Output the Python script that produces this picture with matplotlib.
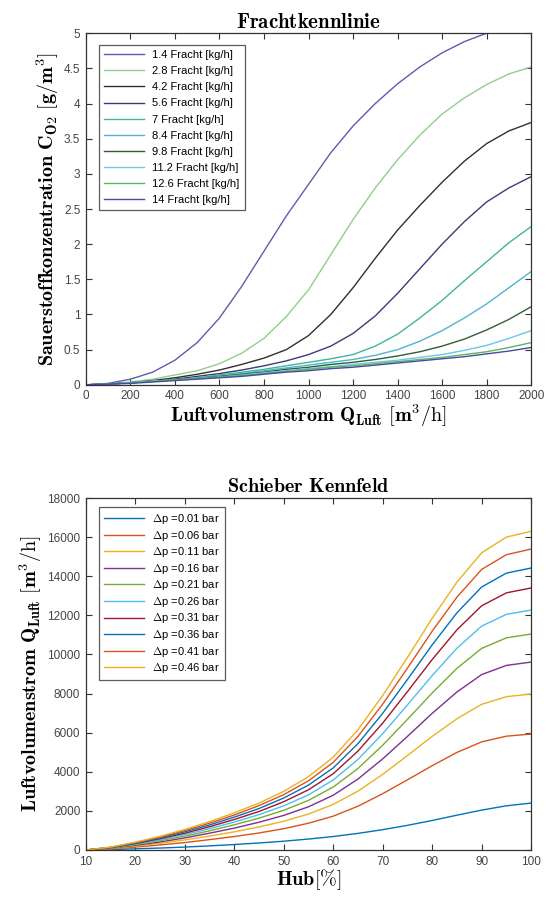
import numpy as np
import matplotlib
matplotlib.use('Agg')
import matplotlib.pyplot as plt
from matplotlib.ticker import FuncFormatter

plt.rcParams['mathtext.fontset'] = 'cm'
plt.rcParams['font.family'] = ['Liberation Sans', 'DejaVu Sans']

# ---- top chart: Frachtkennlinie ----
q_luft = [0, 100, 200, 300, 400, 500, 600, 700, 800, 900, 1000,
          1100, 1200, 1300, 1400, 1500, 1600, 1700, 1800, 1900, 2000]

fracht_labels = ['1.4 Fracht [kg/h]', '2.8 Fracht [kg/h]', '4.2 Fracht [kg/h]',
                 '5.6 Fracht [kg/h]', '7 Fracht [kg/h]', '8.4 Fracht [kg/h]',
                 '9.8 Fracht [kg/h]', '11.2 Fracht [kg/h]', '12.6 Fracht [kg/h]',
                 '14 Fracht [kg/h]']

c_14 = [0, 0.02, 0.08, 0.18, 0.35, 0.6, 0.95, 1.4, 1.9, 2.4, 2.85,
        3.3, 3.68, 4.0, 4.28, 4.52, 4.72, 4.88, 5.0, 5.12, 5.22]
c_28 = [0, 0.01, 0.04, 0.08, 0.14, 0.2, 0.3, 0.45, 0.66, 0.97, 1.35,
        1.85, 2.35, 2.8, 3.2, 3.55, 3.85, 4.08, 4.27, 4.42, 4.52]
c_42 = [0, 0.01, 0.03, 0.06, 0.1, 0.15, 0.21, 0.29, 0.38, 0.5, 0.7,
        1.0, 1.38, 1.8, 2.2, 2.55, 2.88, 3.18, 3.43, 3.61, 3.73]
c_56 = [0, 0.01, 0.03, 0.05, 0.08, 0.12, 0.16, 0.21, 0.27, 0.34, 0.43,
        0.55, 0.73, 0.98, 1.3, 1.65, 2.0, 2.32, 2.6, 2.8, 2.96]
c_70 = [0, 0.01, 0.03, 0.05, 0.07, 0.1, 0.14, 0.18, 0.22, 0.27, 0.32,
        0.37, 0.43, 0.55, 0.72, 0.95, 1.2, 1.48, 1.75, 2.02, 2.25]
c_84 = [0, 0.01, 0.03, 0.05, 0.07, 0.09, 0.12, 0.16, 0.2, 0.24, 0.28,
        0.32, 0.36, 0.42, 0.5, 0.62, 0.77, 0.95, 1.15, 1.38, 1.61]
c_98 = [0, 0.01, 0.03, 0.05, 0.07, 0.09, 0.12, 0.15, 0.18, 0.22, 0.25,
        0.29, 0.32, 0.36, 0.41, 0.47, 0.55, 0.65, 0.78, 0.93, 1.11]
c_112 = [0, 0.01, 0.03, 0.05, 0.07, 0.09, 0.11, 0.14, 0.17, 0.2, 0.23,
         0.26, 0.29, 0.32, 0.35, 0.39, 0.43, 0.49, 0.56, 0.66, 0.77]
c_126 = [0, 0.01, 0.03, 0.05, 0.07, 0.09, 0.11, 0.13, 0.16, 0.19, 0.22,
         0.25, 0.27, 0.3, 0.33, 0.36, 0.39, 0.43, 0.47, 0.53, 0.6]
c_140 = [0, 0.01, 0.02, 0.04, 0.06, 0.08, 0.1, 0.12, 0.15, 0.18, 0.2,
         0.23, 0.25, 0.28, 0.31, 0.34, 0.37, 0.4, 0.44, 0.48, 0.53]
fracht_series = [c_14, c_28, c_42, c_56, c_70, c_84, c_98, c_112, c_126, c_140]
fracht_colors = ['#5b5bb5', '#8fcf8c', '#303030', '#3b3b7a', '#3fb59c',
                 '#4fb3d3', '#2f5f32', '#6cc6e8', '#5cb55c', '#4848a6']

# ---- bottom chart: Schieber Kennfeld ----
hub = [10, 15, 20, 25, 30, 35, 40, 45, 50, 55, 60, 65, 70, 75, 80, 85, 90, 95, 100]
dp_labels = [r'$\Delta$p =0.01 bar', r'$\Delta$p =0.06 bar', r'$\Delta$p =0.11 bar',
             r'$\Delta$p =0.16 bar', r'$\Delta$p =0.21 bar', r'$\Delta$p =0.26 bar',
             r'$\Delta$p =0.31 bar', r'$\Delta$p =0.36 bar', r'$\Delta$p =0.41 bar',
             r'$\Delta$p =0.46 bar']
q_001 = [0, 20, 60, 100, 150, 210, 280, 360, 450, 560, 690, 850, 1040, 1260, 1510, 1780, 2040, 2260, 2400]
q_006 = [0, 55, 150, 260, 380, 530, 690, 870, 1090, 1370, 1730, 2240, 2880, 3590, 4310, 4990, 5530, 5820, 5930]
q_011 = [0, 70, 200, 340, 520, 710, 930, 1180, 1470, 1840, 2330, 3010, 3870, 4830, 5810, 6710, 7450, 7840, 7980]
q_016 = [0, 90, 240, 410, 620, 860, 1120, 1420, 1770, 2210, 2800, 3630, 4660, 5810, 6990, 8080, 8970, 9440, 9610]
q_021 = [0, 100, 270, 480, 710, 980, 1290, 1630, 2030, 2540, 3220, 4170, 5360, 6680, 8030, 9290, 10310, 10850, 11045]
q_026 = [0, 110, 300, 530, 790, 1090, 1430, 1810, 2260, 2820, 3580, 4630, 5950, 7420, 8920, 10320, 11450, 12050, 12270]
q_031 = [0, 120, 330, 580, 860, 1190, 1560, 1970, 2470, 3080, 3900, 5060, 6490, 8100, 9740, 11260, 12490, 13150, 13400]
q_036 = [0, 130, 350, 620, 930, 1280, 1680, 2120, 2660, 3320, 4200, 5440, 6990, 8720, 10490, 12130, 13450, 14160, 14420]
q_041 = [0, 140, 380, 660, 990, 1370, 1790, 2270, 2830, 3540, 4480, 5810, 7460, 9300, 11190, 12930, 14350, 15100, 15390]
q_046 = [0, 150, 400, 700, 1050, 1450, 1900, 2400, 3000, 3750, 4750, 6150, 7900, 9850, 11850, 13700, 15200, 16000, 16300]
dp_series = [q_001, q_006, q_011, q_016, q_021, q_026, q_031, q_036, q_041, q_046]
dp_colors = ['#0072BD', '#D95319', '#EDB120', '#7E2F8E', '#77AC30',
             '#4DBEEE', '#A2142F', '#0072BD', '#D95319', '#EDB120']

fmt = FuncFormatter(lambda v, p: '%g' % v)


def style_axes(ax):
    ax.tick_params(direction='in', top=True, right=True, length=4, width=0.8,
                   labelsize=8.5, labelcolor='#444444', color='#333333', pad=4)
    for s in ax.spines.values():
        s.set_color('#333333')
        s.set_linewidth(0.9)


fig = plt.figure(figsize=(5.47, 8.97), dpi=100)

ax1 = fig.add_axes([0.157, 0.571, 0.814, 0.392])
for vals, col, lab in zip(fracht_series, fracht_colors, fracht_labels):
    ax1.plot(q_luft, vals, color=col, lw=1.0, label=lab)
ax1.set_xlim(0, 2000)
ax1.set_ylim(0, 5)
ax1.set_xticks(np.arange(0, 2001, 200))
ax1.set_yticks(np.arange(0, 5.01, 0.5))
ax1.yaxis.set_major_formatter(fmt)
style_axes(ax1)
ax1.set_title(r'$\mathbf{Frachtkennlinie}$', fontsize=15, pad=4)
ax1.set_xlabel(r'$\mathbf{Luftvolumenstrom\ Q_{Luft}}\ \mathrm{[}\mathbf{m^3}\mathrm{/h]}$',
               fontsize=14.5, labelpad=0)
ax1.set_ylabel(r'$\mathbf{Sauerstoffkonzentration\ C_{O2}}\ \mathrm{[}\mathbf{g/m^3}\mathrm{]}$',
               fontsize=14.5, labelpad=2)
leg1 = ax1.legend(loc='upper left', fontsize=8, handlelength=3.6, labelspacing=0.55,
                  fancybox=False, edgecolor='#333333', borderpad=0.45,
                  bbox_to_anchor=(0.016, 0.982))
leg1.get_frame().set_linewidth(0.9)

ax2 = fig.add_axes([0.157, 0.0524, 0.814, 0.3924])
for vals, col, lab in zip(dp_series, dp_colors, dp_labels):
    ax2.plot(hub, vals, color=col, lw=1.0, label=lab)
ax2.set_xlim(10, 100)
ax2.set_ylim(0, 18000)
ax2.set_xticks(np.arange(10, 101, 10))
ax2.set_yticks(np.arange(0, 18001, 2000))
ax2.yaxis.set_major_formatter(fmt)
style_axes(ax2)
ax2.set_title(r'$\mathbf{Schieber\ Kennfeld}$', fontsize=14.5, pad=4)
ax2.set_xlabel(r'$\mathbf{Hub}\mathrm{[\%]}$', fontsize=14.5, labelpad=0)
ax2.set_ylabel(r'$\mathbf{Luftvolumenstrom\ Q_{Luft}}\ \mathrm{[}\mathbf{m^3}\mathrm{/h]}$',
               fontsize=14.5, labelpad=2)
leg2 = ax2.legend(loc='upper left', fontsize=8, handlelength=3.6, labelspacing=0.23,
                  fancybox=False, edgecolor='#333333', borderpad=0.45,
                  bbox_to_anchor=(0.016, 0.99))
leg2.get_frame().set_linewidth(0.9)

fig.savefig('out.png', dpi=100, facecolor='white')
